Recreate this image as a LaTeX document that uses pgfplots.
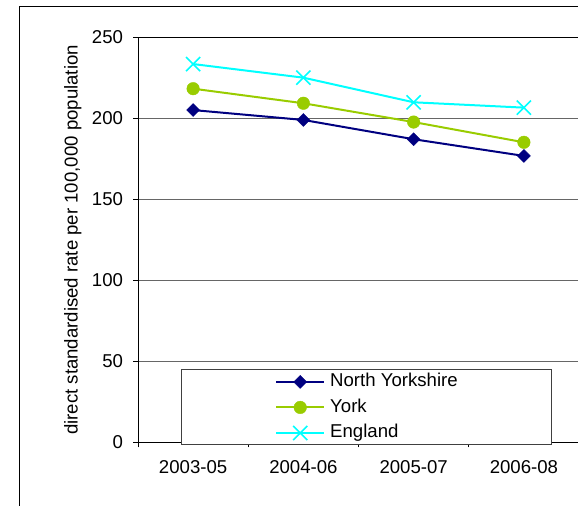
\documentclass[border=0pt]{standalone}
\usepackage{pgfplots}
\pgfplotsset{compat=1.18}
\usepackage{fontspec}
\setmainfont{Liberation Sans}
\definecolor{nyk}{HTML}{000080}
\definecolor{yrk}{HTML}{99CC00}
\definecolor{eng}{HTML}{00FFFF}
\begin{document}
\begin{tikzpicture}[x=1bp,y=1bp]
\useasboundingbox (0,0) rectangle (578,506);
\draw[line width=1bp] (19,-20) -- (19,499) -- (620,499);
\begin{axis}[
  at={(138bp,63.5bp)}, anchor=south west,
  scale only axis, width=441bp, height=405bp,
  xmin=-0.5, xmax=3.5, ymin=0, ymax=250,
  xtick={0,1,2,3}, xticklabels={2003-05,2004-06,2005-07,2006-08},
  minor xtick={-0.5,0.5,1.5,2.5,3.5},
  ytick={0,50,...,250},
  tick align=outside, tick pos=left,
  major tick length=5bp, minor tick length=5bp,
  major x tick style={draw=none},
  minor x tick style={black, line width=0.8bp},
  y tick style={black, line width=0.8bp},
  axis line style={black, line width=0.8bp},
  ymajorgrids, major grid style={black!60, line width=0.8bp},
  /pgf/number format/assume math mode=true,
  tick label style={font=\fontsize{18.6bp}{22bp}\selectfont},
  yticklabel style={xshift=-6.5bp},
  xticklabel style={yshift=-9bp},
  ylabel={direct standardised rate per 100,000 population},
  ylabel style={at={(rel axis cs:0,0.5)}, anchor=center, yshift=65.3bp, font=\fontsize{18.6bp}{22bp}\selectfont},
  clip=false,
  legend cell align=left,
  legend image code/.code={\draw[mark repeat=2,mark phase=2,#1] plot coordinates {(0bp,0bp) (24bp,0bp) (48bp,0bp)};},
  legend style={draw=none, fill=none, at={(rel axis cs:0.3107,0.171)}, anchor=north west,
    inner sep=0pt, row sep=8.5bp, column sep=5bp,
    nodes={inner sep=0pt, text height=13.5bp, text depth=3.5bp, font=\fontsize{18.6bp}{22bp}\selectfont}},
]
\draw[black!75, line width=0.8bp, fill=white] (rel axis cs:0.0975,-0.0037) rectangle (rel axis cs:0.9365,0.1815);
\addplot[color=nyk, line width=2bp, mark=square*, mark size=4.6bp, mark options={solid, rotate=45, line width=0.4bp}]
  coordinates {(0,205.2) (1,199.1) (2,187.2) (3,176.9)};
\addlegendentry{North Yorkshire}
\addplot[color=yrk, line width=2bp, mark=*, mark size=6.3bp, mark options={solid, line width=0.4bp}]
  coordinates {(0,218.4) (1,209.4) (2,197.8) (3,185.3)};
\addlegendentry{York}
\addplot[color=eng, line width=2bp, mark=x, mark size=10bp, mark options={solid, line width=1.6bp}]
  coordinates {(0,233.6) (1,225.2) (2,210.0) (3,206.7)};
\addlegendentry{England}
\end{axis}
\end{tikzpicture}
\end{document}
